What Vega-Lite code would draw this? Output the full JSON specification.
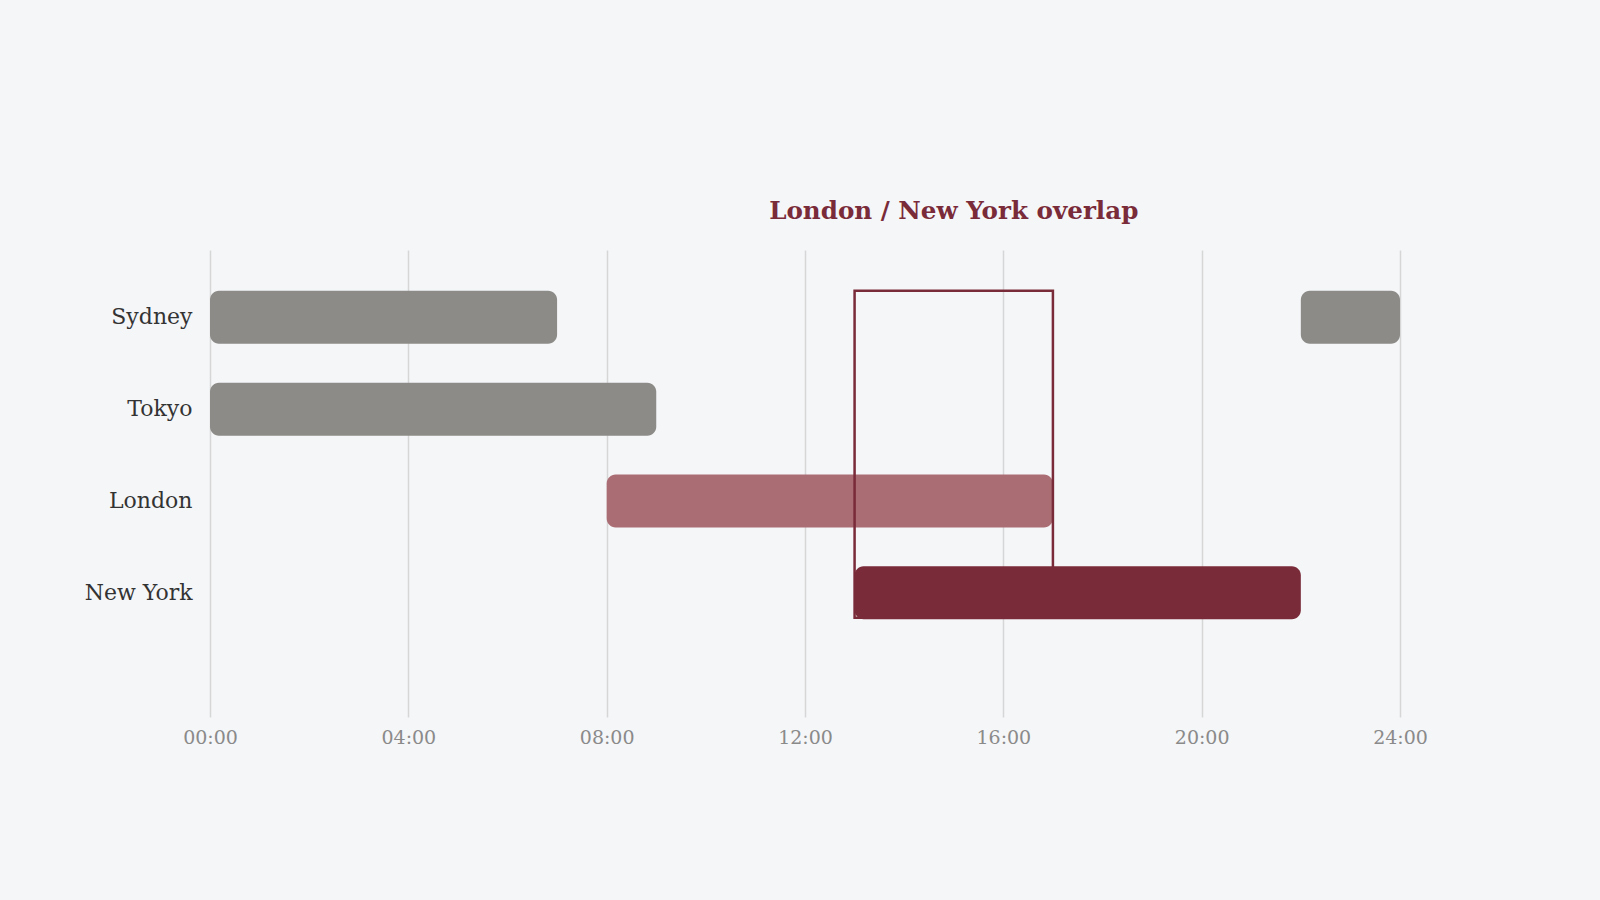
{
  "$schema": "https://vega.github.io/schema/vega-lite/v6.json",
  "autosize": {"type": "none"},
  "width": 1190,
  "height": 467,
  "padding": {"left": 210, "top": 250, "right": 200, "bottom": 183},
  "background": "#f5f6f8",
  "config": {
    "view": {"stroke": null},
    "font": "DejaVu Serif"
  },
  "datasets": {
    "sessions": [
      {"city": "Sydney", "start": 0, "end": 7, "group": "other"},
      {"city": "Sydney", "start": 22, "end": 24, "group": "other"},
      {"city": "Tokyo", "start": 0, "end": 9, "group": "other"},
      {"city": "London", "start": 8, "end": 17, "group": "London"},
      {"city": "New York", "start": 13, "end": 22, "group": "New York"}
    ],
    "overlap": [
      {"start": 13, "end": 17, "top": "Sydney", "bottom": "New York", "mid": 15, "label": "London / New York overlap"}
    ]
  },
  "encoding": {
    "x": {
      "field": "start",
      "type": "quantitative",
      "scale": {"domain": [0, 24], "nice": false, "zero": true},
      "axis": {
        "title": null,
        "values": [0, 4, 8, 12, 16, 20, 24],
        "labelExpr": "format(datum.value, '02d') + ':00'",
        "labelFlush": false,
        "domain": false,
        "ticks": false,
        "grid": true,
        "gridColor": "#d6d6d6",
        "gridWidth": 1.5,
        "labelColor": "#8a8a8a",
        "labelFontSize": 19,
        "labelPadding": 11,
        "labelFont": "DejaVu Serif"
      }
    },
    "y": {
      "field": "city",
      "type": "nominal",
      "scale": {
        "domain": ["Sydney", "Tokyo", "London", "New York"],
        "paddingInner": 0.423,
        "paddingOuter": 0.754,
        "align": 0.295
      },
      "axis": {
        "title": null,
        "domain": false,
        "ticks": false,
        "grid": false,
        "labelColor": "#333333",
        "labelFontSize": 22,
        "labelPadding": 18,
        "labelFont": "DejaVu Serif"
      }
    },
    "color": {
      "field": "group",
      "type": "nominal",
      "scale": {"domain": ["other", "London", "New York"], "range": ["#8c8b87", "#ab6d74", "#7a2b39"]},
      "legend": null
    }
  },
  "layer": [
    {
      "data": {"name": "sessions"},
      "transform": [{"filter": "datum.group != 'New York'"}],
      "mark": {"type": "bar", "cornerRadius": 9},
      "encoding": {
        "x2": {"field": "end"}
      }
    },
    {
      "data": {"name": "overlap"},
      "mark": {"type": "rect", "fill": null, "fillOpacity": 0, "stroke": "#7a2b39", "strokeWidth": 2.5},
      "encoding": {
        "x2": {"field": "end"},
        "y": {"field": "top", "type": "nominal", "bandPosition": 0},
        "y2": {"field": "bottom", "bandPosition": 0.97},
        "color": {"value": null}
      }
    },
    {
      "data": {"name": "sessions"},
      "transform": [{"filter": "datum.group == 'New York'"}],
      "mark": {"type": "bar", "cornerRadius": 9},
      "encoding": {
        "x2": {"field": "end"}
      }
    },
    {
      "data": {"name": "overlap"},
      "mark": {"type": "text", "font": "DejaVu Serif", "fontWeight": "bold", "fontSize": 24.6, "dy": -105, "baseline": "middle", "align": "center"},
      "encoding": {
        "x": {"field": "mid", "type": "quantitative"},
        "y": {"field": "top", "type": "nominal"},
        "text": {"field": "label"},
        "color": {"value": "#7a2b39"}
      }
    }
  ]
}
